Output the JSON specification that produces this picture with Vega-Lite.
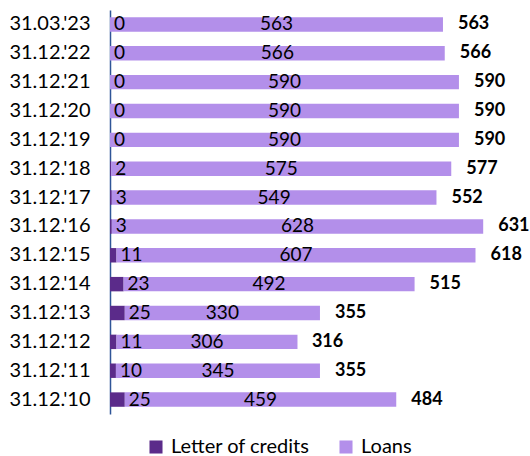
{
  "$schema": "https://vega.github.io/schema/vega-lite/v6.json",
  "autosize": "none",
  "width": 414,
  "height": 404,
  "padding": {"left": 110, "top": 10, "right": 6, "bottom": 42},
  "background": "white",
  "config": {"view": {"stroke": null}, "font": "Lato"},
  "data": {"values": [
    {"date": "31.03.'23", "loc": 0, "loans": 563, "total": 563},
    {"date": "31.12.'22", "loc": 0, "loans": 566, "total": 566},
    {"date": "31.12.'21", "loc": 0, "loans": 590, "total": 590},
    {"date": "31.12.'20", "loc": 0, "loans": 590, "total": 590},
    {"date": "31.12.'19", "loc": 0, "loans": 590, "total": 590},
    {"date": "31.12.'18", "loc": 2, "loans": 575, "total": 577},
    {"date": "31.12.'17", "loc": 3, "loans": 549, "total": 552},
    {"date": "31.12.'16", "loc": 3, "loans": 628, "total": 631},
    {"date": "31.12.'15", "loc": 11, "loans": 607, "total": 618},
    {"date": "31.12.'14", "loc": 23, "loans": 492, "total": 515},
    {"date": "31.12.'13", "loc": 25, "loans": 330, "total": 355},
    {"date": "31.12.'12", "loc": 11, "loans": 306, "total": 316},
    {"date": "31.12.'11", "loc": 10, "loans": 345, "total": 355},
    {"date": "31.12.'10", "loc": 25, "loans": 459, "total": 484}
  ]},
  "encoding": {
    "y": {"field": "date", "type": "nominal", "sort": null,
      "scale": {"paddingInner": 0.5, "paddingOuter": 0.25},
      "axis": {"title": null, "ticks": false, "domainColor": "#2f5597", "domainWidth": 1.5,
        "labelFontSize": 20, "labelColor": "#000000", "labelPadding": 20, "labelFont": "Lato"}}
  },
  "layer": [
    {
      "transform": [{"fold": ["loc", "loans"], "as": ["series", "value"]},
        {"calculate": "datum.series == 'loc' ? 'Letter of credits' : 'Loans'", "as": "seriesName"},
        {"calculate": "datum.series == 'loc' ? 0 : 1", "as": "ord"}],
      "mark": {"type": "bar"},
      "encoding": {
        "x": {"field": "value", "type": "quantitative", "stack": "zero", "scale": {"domain": [0, 700]}, "axis": null},
        "order": {"field": "ord"},
        "color": {"field": "seriesName", "type": "nominal",
          "scale": {"domain": ["Letter of credits", "Loans"], "range": ["#5b2b8a", "#b38fea"]},
          "legend": {"title": null, "orient": "none", "legendX": 36, "legendY": 427, "direction": "horizontal",
            "symbolType": "square", "symbolSize": 170, "labelFontSize": 20, "labelColor": "#000000",
            "columnPadding": 26, "symbolStrokeWidth": 0, "labelOffset": 5}}
      }
    },
    {
      "mark": {"type": "text", "align": "left", "dx": 4, "fontSize": 19, "color": "#000000"},
      "encoding": {"x": {"field": "loc", "type": "quantitative"}, "text": {"field": "loc"}}
    },
    {
      "transform": [{"calculate": "datum.loc + datum.loans / 2", "as": "mid"}],
      "mark": {"type": "text", "align": "center", "fontSize": 19, "color": "#000000"},
      "encoding": {"x": {"field": "mid", "type": "quantitative"}, "text": {"field": "loans"}}
    },
    {
      "mark": {"type": "text", "align": "left", "dx": 15, "fontSize": 18, "fontWeight": "bold", "color": "#000000"},
      "encoding": {"x": {"field": "total", "type": "quantitative"}, "text": {"field": "total"}}
    }
  ]
}
